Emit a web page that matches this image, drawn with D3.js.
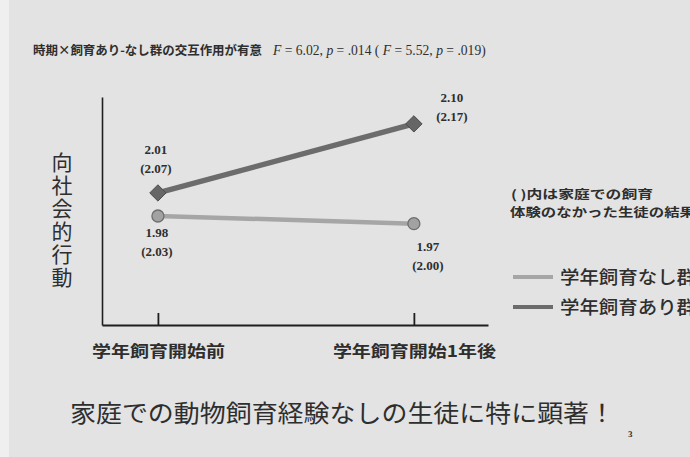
<!DOCTYPE html>
<html>
<head>
<meta charset="utf-8">
<script src="https://cdn.jsdelivr.net/npm/d3@7"></script>
<style>
  html, body { margin: 0; padding: 0; background: #e4e4e4; }
  svg { display: block; }
</style>
</head>
<body>
<svg id="chart" width="690" height="457"></svg>
<script>
// Periods on the x axis
const periods = ["学年飼育開始前", "学年飼育開始1年後"];
// Group names (legend)
const groups = ["学年飼育なし群", "学年飼育あり群"];
// Mean prosocial-behaviour scores, all students
const noneValues = [1.98, 1.97];
const withValues = [2.01, 2.10];
// Means for students without pet-keeping experience at home (shown in parentheses)
const noneNoHome = [2.03, 2.00];
const withNoHome = [2.07, 2.17];

const svg = d3.select("#chart");
const JP = "'Noto Sans CJK JP', 'Noto Sans', sans-serif";
const SERIF = "'Liberation Serif', 'DejaVu Serif', serif";
const ink = "#2e2e2e";
const lightGrey = "#a6a6a6";
const darkGrey = "#6c6c6c";

// paper background with a lighter strip at the left edge
svg.append("rect").attr("width", 690).attr("height", 457).attr("fill", "#e3e3e3");
svg.append("rect").attr("width", 9).attr("height", 457).attr("fill", "#efefef");

// heading: interaction result
svg.append("text")
  .attr("x", 33).attr("y", 55)
  .attr("font-family", JP).attr("font-weight", 700).attr("font-size", 12.5)
  .attr("fill", ink)
  .attr("textLength", 229).attr("lengthAdjust", "spacingAndGlyphs")
  .text("時期×飼育あり-なし群の交互作用が有意");
const stat = svg.append("text")
  .attr("x", 273).attr("y", 55)
  .attr("font-family", SERIF).attr("font-size", 13.6).attr("fill", ink);
[["F", true], [" = 6.02, ", false], ["p", true], [" = .014 ( ", false],
 ["F", true], [" = 5.52, ", false], ["p", true], [" = .019)", false]]
  .forEach(([t, it]) => stat.append("tspan").attr("font-style", it ? "italic" : "normal").text(t));

// scales
const x = d3.scalePoint().domain(periods).range([102, 488]).padding(0.254).align(0.43);
const y = d3.scaleLinear().domain([1.838, 2.135]).range([325, 97]);

// y axis: plain vertical line
svg.append("g").attr("transform", "translate(102,0)")
  .call(d3.axisLeft(y).tickValues([]).tickSizeOuter(0))
  .call(g => g.select(".domain").attr("stroke", "#1e1e1e").attr("stroke-width", 1.6));

// x axis with upward ticks
const labelWidths = [133, 163];
svg.append("g").attr("transform", "translate(0,325)")
  .call(d3.axisBottom(x).tickSizeInner(-12).tickSizeOuter(0).tickPadding(21))
  .call(g => g.select(".domain").attr("stroke", "#1e1e1e").attr("stroke-width", 1.8))
  .call(g => g.selectAll(".tick line").attr("stroke", "#1e1e1e").attr("stroke-width", 1.8))
  .call(g => g.selectAll(".tick text")
    .attr("font-family", JP).attr("font-weight", 700).attr("font-size", 16)
    .attr("textLength", (d, i) => labelWidths[i]).attr("lengthAdjust", "spacingAndGlyphs")
    .attr("fill", ink));

// y axis title, written vertically
svg.append("text")
  .attr("x", 62).attr("y", 152)
  .attr("writing-mode", "vertical-rl")
  .attr("font-family", JP).attr("font-size", 21).attr("letter-spacing", 2)
  .attr("fill", ink)
  .text("向社会的行動");

// series lines
const line = d3.line().x((d, i) => x(periods[i])).y(d => y(d));
svg.append("path").datum(noneValues).attr("d", line)
  .attr("fill", "none").attr("stroke", lightGrey).attr("stroke-width", 4.5);
svg.append("path").datum(withValues).attr("d", line)
  .attr("fill", "none").attr("stroke", darkGrey).attr("stroke-width", 5.5);

// markers
svg.selectAll("circle.none").data(noneValues).join("circle")
  .attr("cx", (d, i) => x(periods[i])).attr("cy", d => y(d)).attr("r", 6)
  .attr("fill", "#a2a2a2").attr("stroke", "#6e6e6e").attr("stroke-width", 1.3);
const diamond = d3.symbol().type(d3.symbolDiamond2).size(170);
svg.selectAll("path.with").data(withValues).join("path")
  .attr("transform", (d, i) => `translate(${x(periods[i])},${y(d)})`)
  .attr("d", diamond)
  .attr("fill", "#666").attr("stroke", "#4c4c4c").attr("stroke-width", 1);

// value labels: mean on top line, no-home-experience mean below in parentheses
function valueLabel(cx, cy, v, vh) {
  const t = svg.append("text").attr("font-family", SERIF).attr("font-weight", 700)
    .attr("font-size", 13).attr("fill", ink).attr("text-anchor", "middle");
  t.append("tspan").attr("x", cx).attr("y", cy).text(v.toFixed(2));
  t.append("tspan").attr("x", cx).attr("y", cy + 19).text(`(${vh.toFixed(2)})`);
}
valueLabel(x(periods[0]) - 2, y(withValues[0]) - 39, withValues[0], withNoHome[0]);
valueLabel(x(periods[1]) + 38, y(withValues[1]) - 22, withValues[1], withNoHome[1]);
valueLabel(x(periods[0]) - 1, y(noneValues[0]) + 21, noneValues[0], noneNoHome[0]);
valueLabel(x(periods[1]) + 14, y(noneValues[1]) + 27, noneValues[1], noneNoHome[1]);

// note about parentheses, two lines
[["( )内は家庭での飼育", 511, 199, 142], ["体験のなかった生徒の結果", 510, 217, 185]]
  .forEach(([t, nx, ny, w]) => svg.append("text")
    .attr("x", nx).attr("y", ny)
    .attr("font-family", JP).attr("font-weight", 700).attr("font-size", 12).attr("fill", ink)
    .attr("textLength", w).attr("lengthAdjust", "spacingAndGlyphs").text(t));

// legend
const legendColors = [lightGrey, darkGrey];
groups.forEach((g, i) => {
  const ly = 277 + i * 30;
  svg.append("line").attr("x1", 513).attr("x2", 553).attr("y1", ly).attr("y2", ly)
    .attr("stroke", legendColors[i]).attr("stroke-width", 4);
  svg.append("text").attr("x", 560).attr("y", ly + 7)
    .attr("font-family", JP).attr("font-weight", 500).attr("font-size", 18.5).attr("fill", ink)
    .attr("textLength", 136).attr("lengthAdjust", "spacingAndGlyphs")
    .text(g);
});

// closing remark
svg.append("text").attr("x", 70).attr("y", 422)
  .attr("font-family", JP).attr("font-size", 24).attr("fill", ink)
  .attr("textLength", 545).attr("lengthAdjust", "spacingAndGlyphs")
  .text("家庭での動物飼育経験なしの生徒に特に顕著！");

// page number
svg.append("text").attr("x", 628).attr("y", 437)
  .attr("font-family", SERIF).attr("font-weight", 700).attr("font-size", 9)
  .attr("fill", ink).text("3");
</script>
</body>
</html>
